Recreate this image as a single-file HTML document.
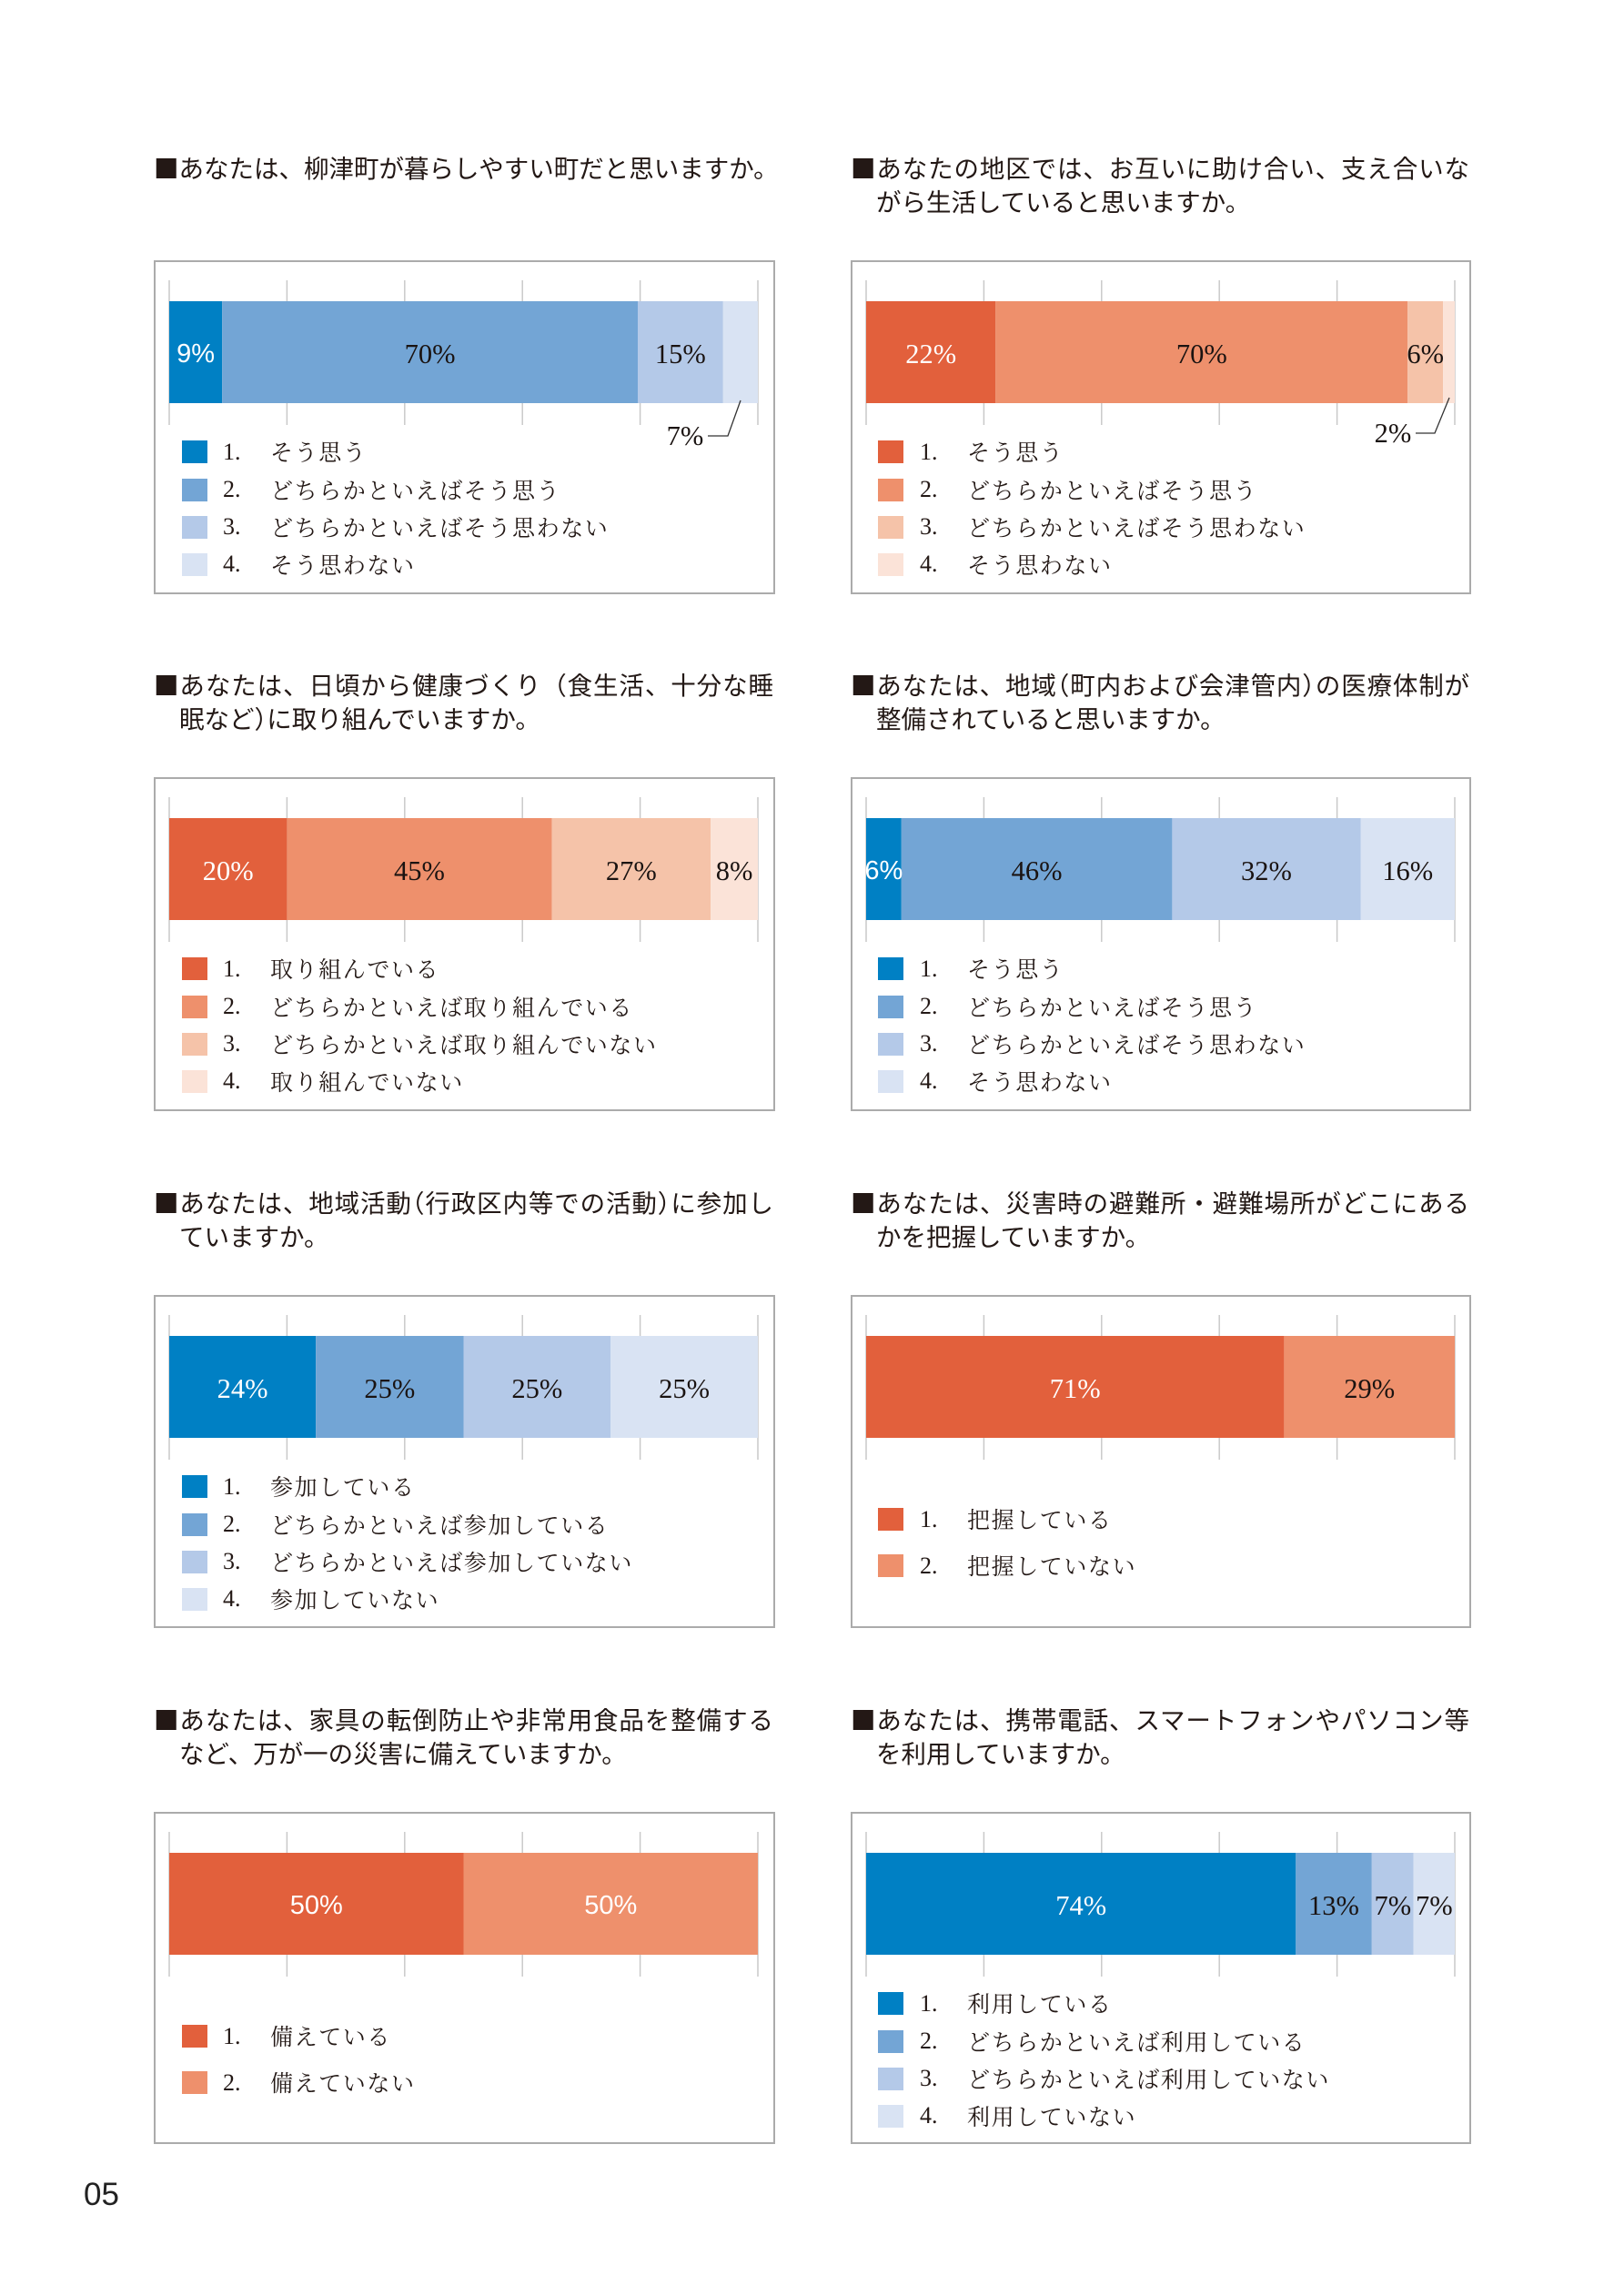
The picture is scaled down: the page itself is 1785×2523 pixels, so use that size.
<!DOCTYPE html>
<html lang="ja">
<head>
<meta charset="utf-8">
<style>
html,body{margin:0;padding:0;background:#fff;}
#pg{position:relative;width:1785px;height:2523px;overflow:hidden;background:#fff;}
svg{position:absolute;left:0;top:0;}
.t{position:absolute;white-space:nowrap;font-family:"Noto Sans CJK JP","Liberation Sans",sans-serif;font-size:27.5px;line-height:37px;color:#231815;}
.j{white-space:normal;text-align:justify;text-align-last:justify;text-justify:inter-character;overflow:visible;}
.c1{width:681px;}
.c2{width:680px;}
.h{font-feature-settings:"halt";}
.n{position:absolute;white-space:nowrap;font-family:"Liberation Serif","Noto Serif CJK SC",serif;font-size:26px;line-height:40px;color:#231815;}
.l{position:absolute;white-space:nowrap;font-family:"Noto Serif CJK SC","Liberation Serif",serif;font-size:25px;letter-spacing:1.6px;line-height:40px;color:#231815;}
.v{position:absolute;width:200px;text-align:center;white-space:nowrap;font-family:"Liberation Serif",serif;font-size:30.5px;line-height:40px;color:#1a1311;}
.w{color:#fff;}
.s{font-family:"Liberation Sans",sans-serif;font-size:29px;}
.pn{position:absolute;left:92px;top:2392px;font-family:"Liberation Sans",sans-serif;font-size:35px;line-height:40px;color:#222;}
</style>
</head>
<body>
<div id="pg">
<svg width="1785" height="2523" viewBox="0 0 1785 2523">
<g fill="#fff" stroke="#ababab" stroke-width="2">
<rect x="170" y="287" width="681" height="365"/>
<rect x="936" y="287" width="680" height="365"/>
<rect x="170" y="855" width="681" height="365"/>
<rect x="936" y="855" width="680" height="365"/>
<rect x="170" y="1424" width="681" height="364"/>
<rect x="936" y="1424" width="680" height="364"/>
<rect x="170" y="1992" width="681" height="363"/>
<rect x="936" y="1992" width="680" height="363"/>
</g>
<g stroke="#c9c9c9" stroke-width="1.5">
<path d="M186 308V467M315.4 308V467M444.8 308V467M574.2 308V467M703.6 308V467M833 308V467"/>
<path d="M952 308V467M1081.4 308V467M1210.8 308V467M1340.2 308V467M1469.6 308V467M1599 308V467"/>
<path d="M186 876V1035M315.4 876V1035M444.8 876V1035M574.2 876V1035M703.6 876V1035M833 876V1035"/>
<path d="M952 876V1035M1081.4 876V1035M1210.8 876V1035M1340.2 876V1035M1469.6 876V1035M1599 876V1035"/>
<path d="M186 1445V1604M315.4 1445V1604M444.8 1445V1604M574.2 1445V1604M703.6 1445V1604M833 1445V1604"/>
<path d="M952 1445V1604M1081.4 1445V1604M1210.8 1445V1604M1340.2 1445V1604M1469.6 1445V1604M1599 1445V1604"/>
<path d="M186 2013V2172M315.4 2013V2172M444.8 2013V2172M574.2 2013V2172M703.6 2013V2172M833 2013V2172"/>
<path d="M952 2013V2172M1081.4 2013V2172M1210.8 2013V2172M1340.2 2013V2172M1469.6 2013V2172M1599 2013V2172"/>
</g>
<!-- row1 bars -->
<rect x="186" y="331" width="58.2" height="112" fill="#0080c4"/>
<rect x="244.2" y="331" width="456.8" height="112" fill="#73a5d5"/>
<rect x="701" y="331" width="93.8" height="112" fill="#b4c9e8"/>
<rect x="794.8" y="331" width="38.2" height="112" fill="#d9e3f3"/>
<rect x="952" y="331" width="142.3" height="112" fill="#e2603c"/>
<rect x="1094.3" y="331" width="452.9" height="112" fill="#ee906c"/>
<rect x="1547.2" y="331" width="38.9" height="112" fill="#f5c3a9"/>
<rect x="1586.1" y="331" width="12.9" height="112" fill="#fbe3d8"/>
<!-- row2 bars -->
<rect x="186" y="899" width="129.4" height="112" fill="#e2603c"/>
<rect x="315.4" y="899" width="291.2" height="112" fill="#ee906c"/>
<rect x="606.6" y="899" width="174.6" height="112" fill="#f5c3a9"/>
<rect x="781.2" y="899" width="51.8" height="112" fill="#fbe3d8"/>
<rect x="952" y="899" width="38.8" height="112" fill="#0080c4"/>
<rect x="990.8" y="899" width="297.6" height="112" fill="#73a5d5"/>
<rect x="1288.4" y="899" width="207.1" height="112" fill="#b4c9e8"/>
<rect x="1495.5" y="899" width="103.5" height="112" fill="#d9e3f3"/>
<!-- row3 bars -->
<rect x="186" y="1468" width="161.1" height="112" fill="#0080c4"/>
<rect x="347.1" y="1468" width="162.4" height="112" fill="#73a5d5"/>
<rect x="509.5" y="1468" width="161.75" height="112" fill="#b4c9e8"/>
<rect x="671.25" y="1468" width="161.75" height="112" fill="#d9e3f3"/>
<rect x="952" y="1468" width="459.4" height="112" fill="#e2603c"/>
<rect x="1411.4" y="1468" width="187.6" height="112" fill="#ee906c"/>
<!-- row4 bars -->
<rect x="186" y="2036" width="323.5" height="112" fill="#e2603c"/>
<rect x="509.5" y="2036" width="323.5" height="112" fill="#ee906c"/>
<rect x="952" y="2036" width="472.3" height="112" fill="#0080c4"/>
<rect x="1424.3" y="2036" width="83.5" height="112" fill="#73a5d5"/>
<rect x="1507.8" y="2036" width="45.9" height="112" fill="#b4c9e8"/>
<rect x="1553.7" y="2036" width="45.3" height="112" fill="#d9e3f3"/>
<!-- leaders -->
<g fill="none" stroke="#333" stroke-width="1.3">
<polyline points="814,440 800,479 778,479"/>
<polyline points="1593,437 1577,476 1556,476"/>
</g>
<!-- legend squares -->
<rect x="200" y="484" width="28" height="25" fill="#0080c4"/>
<rect x="200" y="526" width="28" height="25" fill="#73a5d5"/>
<rect x="200" y="567" width="28" height="25" fill="#b4c9e8"/>
<rect x="200" y="608" width="28" height="25" fill="#d9e3f3"/>
<rect x="965" y="484" width="28" height="25" fill="#e2603c"/>
<rect x="965" y="526" width="28" height="25" fill="#ee906c"/>
<rect x="965" y="567" width="28" height="25" fill="#f5c3a9"/>
<rect x="965" y="608" width="28" height="25" fill="#fbe3d8"/>

<rect x="200" y="1052" width="28" height="25" fill="#e2603c"/>
<rect x="200" y="1094" width="28" height="25" fill="#ee906c"/>
<rect x="200" y="1135" width="28" height="25" fill="#f5c3a9"/>
<rect x="200" y="1176" width="28" height="25" fill="#fbe3d8"/>
<rect x="965" y="1052" width="28" height="25" fill="#0080c4"/>
<rect x="965" y="1094" width="28" height="25" fill="#73a5d5"/>
<rect x="965" y="1135" width="28" height="25" fill="#b4c9e8"/>
<rect x="965" y="1176" width="28" height="25" fill="#d9e3f3"/>

<rect x="200" y="1621" width="28" height="25" fill="#0080c4"/>
<rect x="200" y="1663" width="28" height="25" fill="#73a5d5"/>
<rect x="200" y="1704" width="28" height="25" fill="#b4c9e8"/>
<rect x="200" y="1745" width="28" height="25" fill="#d9e3f3"/>
<rect x="965" y="1657" width="28" height="25" fill="#e2603c"/>
<rect x="965" y="1708" width="28" height="25" fill="#ee906c"/>

<rect x="200" y="2225" width="28" height="25" fill="#e2603c"/>
<rect x="200" y="2276" width="28" height="25" fill="#ee906c"/>
<rect x="965" y="2189" width="28" height="25" fill="#0080c4"/>
<rect x="965" y="2231" width="28" height="25" fill="#73a5d5"/>
<rect x="965" y="2272" width="28" height="25" fill="#b4c9e8"/>
<rect x="965" y="2313" width="28" height="25" fill="#d9e3f3"/>
</svg>

<!-- Titles -->
<div class="t" style="left:169px;top:164.5px;">■あなたは、柳津町が暮らしやすい町だと思いますか。</div>
<div class="t j c2" style="left:935px;top:164.5px;">■あなたの地区では、お互いに助け合い、支え合いな</div>
<div class="t" style="left:963px;top:201.5px;">がら生活していると思いますか。</div>

<div class="t j c1" style="left:169px;top:732.5px;">■あなたは、日頃から健康づくり（食生活、十分な睡</div>
<div class="t" style="left:197px;top:769.5px;">眠など<span class="h">）</span>に取り組んでいますか。</div>
<div class="t j c2" style="left:935px;top:732.5px;">■あなたは、地域<span class="h">（</span>町内および会津管内<span class="h">）</span>の医療体制が</div>
<div class="t" style="left:963px;top:769.5px;">整備されていると思いますか。</div>

<div class="t j c1" style="left:169px;top:1301.5px;">■あなたは、地域活動<span class="h">（</span>行政区内等での活動<span class="h">）</span>に参加し</div>
<div class="t" style="left:197px;top:1338.5px;">ていますか。</div>
<div class="t j c2" style="left:935px;top:1301.5px;">■あなたは、災害時の避難所・避難場所がどこにある</div>
<div class="t" style="left:963px;top:1338.5px;">かを把握していますか。</div>

<div class="t j c1" style="left:169px;top:1869.5px;">■あなたは、家具の転倒防止や非常用食品を整備する</div>
<div class="t" style="left:197px;top:1906.5px;">など、万が一の災害に備えていますか。</div>
<div class="t j c2" style="left:935px;top:1869.5px;">■あなたは、携帯電話、スマートフォンやパソコン等</div>
<div class="t" style="left:963px;top:1906.5px;">を利用していますか。</div>

<!-- Bar value labels -->
<div class="v w s" style="left:115.1px;top:369px;">9%</div>
<div class="v" style="left:372.6px;top:369px;">70%</div>
<div class="v" style="left:647.9px;top:369px;">15%</div>
<div class="v" style="left:653px;top:459px;">7%</div>

<div class="v w" style="left:923.2px;top:369px;">22%</div>
<div class="v" style="left:1220.8px;top:369px;">70%</div>
<div class="v" style="left:1466.7px;top:369px;">6%</div>
<div class="v" style="left:1431px;top:456px;">2%</div>

<div class="v w" style="left:150.7px;top:937px;">20%</div>
<div class="v" style="left:361px;top:937px;">45%</div>
<div class="v" style="left:593.9px;top:937px;">27%</div>
<div class="v" style="left:707.1px;top:937px;">8%</div>

<div class="v w s" style="left:871.4px;top:937px;">6%</div>
<div class="v" style="left:1039.6px;top:937px;">46%</div>
<div class="v" style="left:1292px;top:937px;">32%</div>
<div class="v" style="left:1447.2px;top:937px;">16%</div>

<div class="v w" style="left:166.6px;top:1506px;">24%</div>
<div class="v" style="left:328.3px;top:1506px;">25%</div>
<div class="v" style="left:490.4px;top:1506px;">25%</div>
<div class="v" style="left:652.1px;top:1506px;">25%</div>

<div class="v w" style="left:1081.7px;top:1506px;">71%</div>
<div class="v" style="left:1405.2px;top:1506px;">29%</div>

<div class="v w s" style="left:247.75px;top:2074px;">50%</div>
<div class="v w s" style="left:571.25px;top:2074px;">50%</div>

<div class="v w" style="left:1088.2px;top:2074px;">74%</div>
<div class="v" style="left:1366px;top:2074px;">13%</div>
<div class="v" style="left:1430.8px;top:2074px;">7%</div>
<div class="v" style="left:1476.4px;top:2074px;">7%</div>

<!-- Legends row1 -->
<div class="n" style="left:245px;top:477px;">1.</div><div class="l" style="left:297px;top:476px;">そう思う</div>
<div class="n" style="left:245px;top:518px;">2.</div><div class="l" style="left:297px;top:518px;">どちらかといえばそう思う</div>
<div class="n" style="left:245px;top:559px;">3.</div><div class="l" style="left:297px;top:559px;">どちらかといえばそう思わない</div>
<div class="n" style="left:245px;top:600px;">4.</div><div class="l" style="left:297px;top:600px;">そう思わない</div>

<div class="n" style="left:1011px;top:477px;">1.</div><div class="l" style="left:1063px;top:476px;">そう思う</div>
<div class="n" style="left:1011px;top:518px;">2.</div><div class="l" style="left:1063px;top:518px;">どちらかといえばそう思う</div>
<div class="n" style="left:1011px;top:559px;">3.</div><div class="l" style="left:1063px;top:559px;">どちらかといえばそう思わない</div>
<div class="n" style="left:1011px;top:600px;">4.</div><div class="l" style="left:1063px;top:600px;">そう思わない</div>

<!-- Legends row2 -->
<div class="n" style="left:245px;top:1045px;">1.</div><div class="l" style="left:297px;top:1044px;">取り組んでいる</div>
<div class="n" style="left:245px;top:1086px;">2.</div><div class="l" style="left:297px;top:1086px;">どちらかといえば取り組んでいる</div>
<div class="n" style="left:245px;top:1127px;">3.</div><div class="l" style="left:297px;top:1127px;">どちらかといえば取り組んでいない</div>
<div class="n" style="left:245px;top:1168px;">4.</div><div class="l" style="left:297px;top:1168px;">取り組んでいない</div>

<div class="n" style="left:1011px;top:1045px;">1.</div><div class="l" style="left:1063px;top:1044px;">そう思う</div>
<div class="n" style="left:1011px;top:1086px;">2.</div><div class="l" style="left:1063px;top:1086px;">どちらかといえばそう思う</div>
<div class="n" style="left:1011px;top:1127px;">3.</div><div class="l" style="left:1063px;top:1127px;">どちらかといえばそう思わない</div>
<div class="n" style="left:1011px;top:1168px;">4.</div><div class="l" style="left:1063px;top:1168px;">そう思わない</div>

<!-- Legends row3 -->
<div class="n" style="left:245px;top:1614px;">1.</div><div class="l" style="left:297px;top:1613px;">参加している</div>
<div class="n" style="left:245px;top:1655px;">2.</div><div class="l" style="left:297px;top:1655px;">どちらかといえば参加している</div>
<div class="n" style="left:245px;top:1696px;">3.</div><div class="l" style="left:297px;top:1696px;">どちらかといえば参加していない</div>
<div class="n" style="left:245px;top:1737px;">4.</div><div class="l" style="left:297px;top:1737px;">参加していない</div>

<div class="n" style="left:1011px;top:1650px;">1.</div><div class="l" style="left:1063px;top:1649px;">把握している</div>
<div class="n" style="left:1011px;top:1701px;">2.</div><div class="l" style="left:1063px;top:1700px;">把握していない</div>

<!-- Legends row4 -->
<div class="n" style="left:245px;top:2218px;">1.</div><div class="l" style="left:297px;top:2217px;">備えている</div>
<div class="n" style="left:245px;top:2269px;">2.</div><div class="l" style="left:297px;top:2268px;">備えていない</div>

<div class="n" style="left:1011px;top:2182px;">1.</div><div class="l" style="left:1063px;top:2181px;">利用している</div>
<div class="n" style="left:1011px;top:2223px;">2.</div><div class="l" style="left:1063px;top:2223px;">どちらかといえば利用している</div>
<div class="n" style="left:1011px;top:2264px;">3.</div><div class="l" style="left:1063px;top:2264px;">どちらかといえば利用していない</div>
<div class="n" style="left:1011px;top:2305px;">4.</div><div class="l" style="left:1063px;top:2305px;">利用していない</div>

<div class="pn">05</div>
</div>
</body>
</html>
